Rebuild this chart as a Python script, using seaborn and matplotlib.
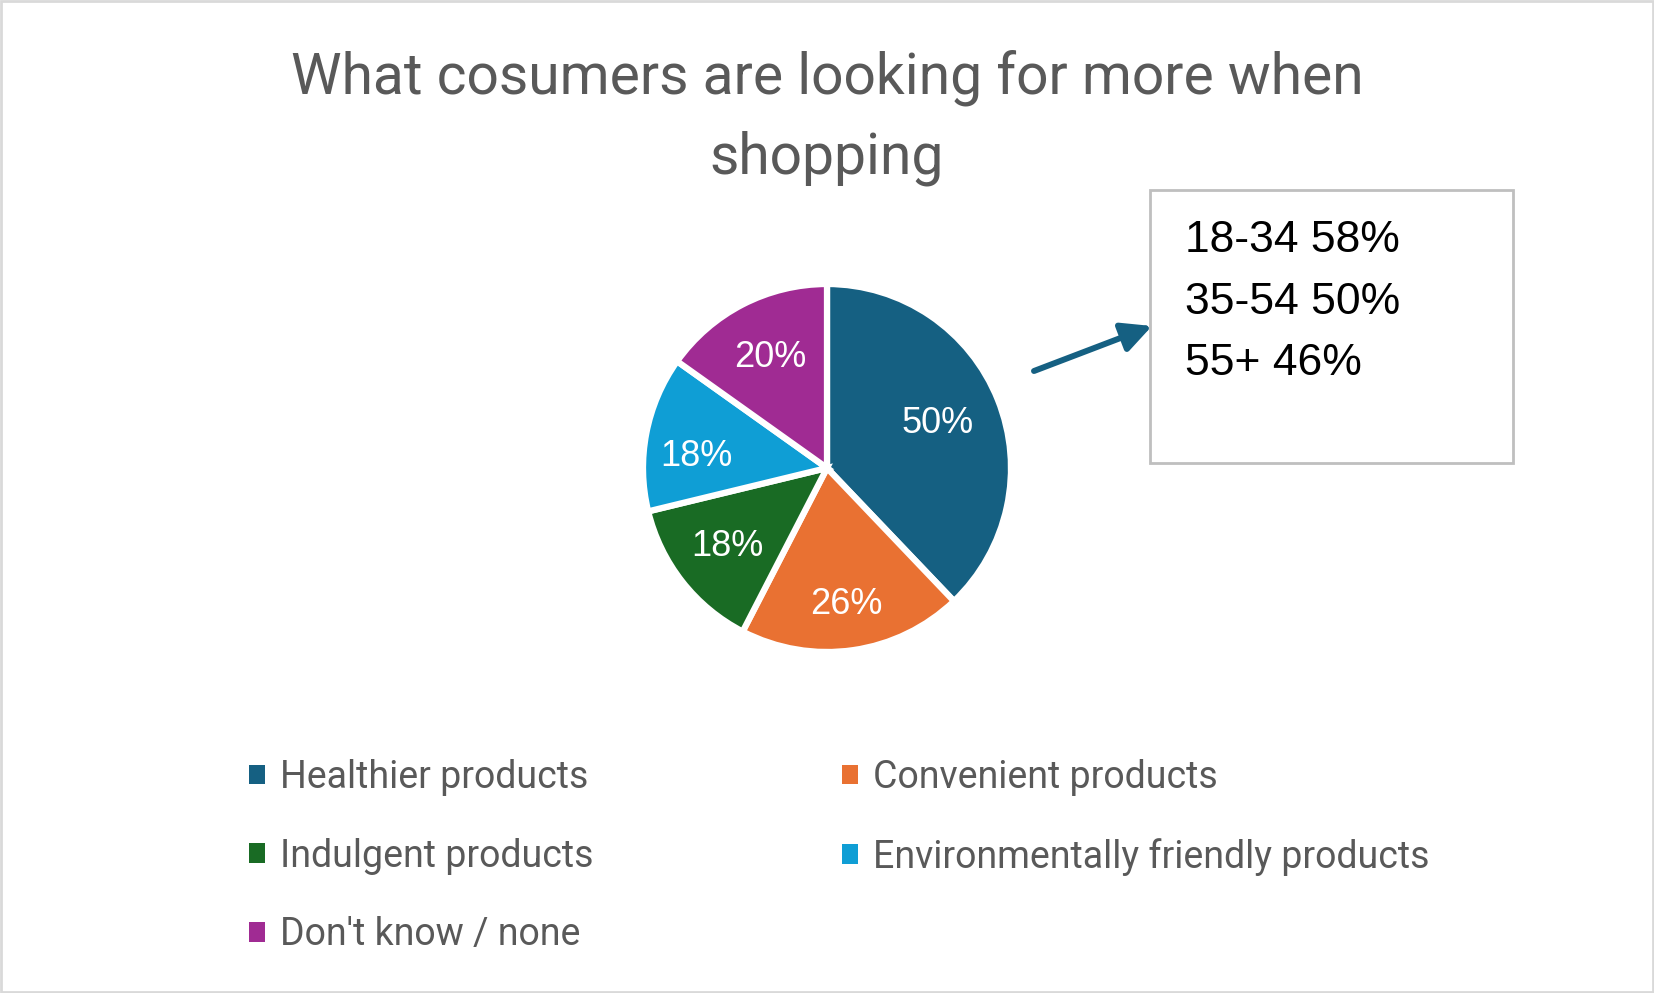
import matplotlib
matplotlib.use("Agg")
import matplotlib.pyplot as plt
from matplotlib.patches import Patch, Rectangle, FancyArrowPatch
import numpy as np
import seaborn as sns

# ---- data ----
categories = ["Healthier products", "Convenient products", "Indulgent products",
              "Environmentally friendly products", "Don't know / none"]
values = [50, 26, 18, 18, 20]
value_labels = ["50%", "26%", "18%", "18%", "20%"]
colors = ["#156082", "#E97132", "#196B24", "#0F9ED5", "#A02B93"]
title_lines = ["What cosumers are looking for more when", "shopping"]
age_lines = ["18-34 58%", "35-54 50%", "55+ 46%"]

# label placement styling (radial factor, angular nudge in degrees)
label_dist = [0.65, 0.75, 0.69, 0.71, 0.675]
label_rot = [0, 0, 0, 6, 0]

sns.set_theme(style="white")
plt.rcParams['font.family'] = ['Roboto', 'DejaVu Sans']
palette = sns.color_palette(colors)

W, H = 1654, 993
fig = plt.figure(figsize=(W / 100, H / 100), dpi=100)
fig.patch.set_facecolor("white")

def fx(px):
    return px / W

def fy(py):
    return 1 - py / H

# pie
cx, cy, r = 827, 468, 184
ax = fig.add_axes([fx(cx - r), fy(cy + r), 2 * r / W, 2 * r / H])
wedges, texts = ax.pie(values, labels=value_labels, colors=palette, startangle=90,
                       counterclock=False, labeldistance=1.0,
                       wedgeprops=dict(edgecolor="white", linewidth=4.5))
for t, d, rot in zip(texts, label_dist, label_rot):
    x, y = t.get_position()
    a = np.arctan2(y, x) + np.deg2rad(rot)
    t.set_position((d * np.cos(a), d * np.sin(a)))
    t.set_color("white")
    t.set_ha("center")
    t.set_va("center")
    t.set_fontsize(26)
    t.set_family(["Liberation Sans", "DejaVu Sans"])
ax.set_xlim(-1, 1)
ax.set_ylim(-1, 1)
ax.set_aspect("auto")
ax.axis("off")

# title
tc = "#595959"
fig.text(fx(827), fy(94), title_lines[0], ha="center", va="baseline",
         fontsize=41, color=tc)
fig.text(fx(827), fy(174), title_lines[1], ha="center", va="baseline",
         fontsize=41, color=tc)

# legend (row-major order display)
handles = [Patch(facecolor=c, edgecolor="none") for c in palette]
order = [0, 2, 4, 1, 3]
fig.legend([handles[i] for i in order], [categories[i] for i in order],
           ncol=2, loc="upper left", bbox_to_anchor=(fx(249), fy(759)),
           frameon=False, fontsize=27, labelcolor=tc,
           handlelength=0.43, handleheight=0.43, handletextpad=0.4,
           labelspacing=1.11, columnspacing=6.63, borderpad=0, borderaxespad=0)

# annotation box
fig.add_artist(Rectangle((fx(1150), fy(463)), fx(1513) - fx(1150), fy(190) - fy(463),
                         transform=fig.transFigure, facecolor="white",
                         edgecolor="#BFBFBF", linewidth=2))
for line, base in zip(age_lines, [252, 314, 375]):
    fig.text(fx(1185), fy(base), line, ha="left", va="baseline", fontsize=32,
             color="black", family=["Liberation Sans", "DejaVu Sans"])

# arrow
fig.add_artist(FancyArrowPatch((fx(1034), fy(371)), (fx(1152), fy(326)),
                               transform=fig.transFigure,
                               arrowstyle="-|>,head_length=18,head_width=9",
                               mutation_scale=1, color="#156082", linewidth=4.3,
                               shrinkA=0, shrinkB=0))

# outer border
fig.add_artist(Rectangle((0.0008, 0.0012), 0.9984, 0.9976, transform=fig.transFigure,
                         facecolor="none", edgecolor="#D9D9D9", linewidth=2))

fig.savefig("out.png", dpi=100, facecolor="white")
